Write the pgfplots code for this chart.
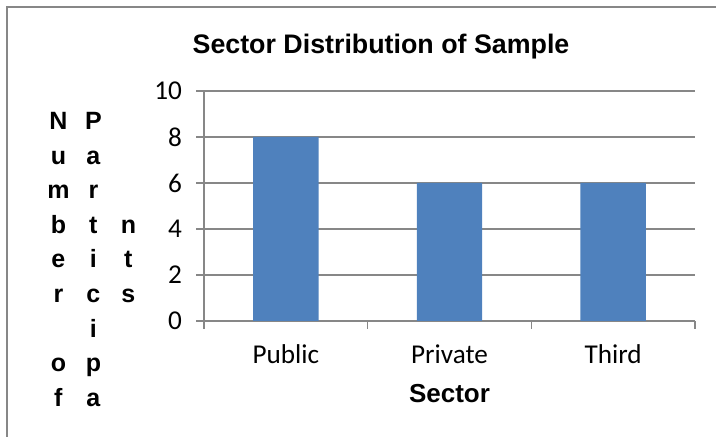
\documentclass[border=0pt]{standalone}
\usepackage{pgfplots}
\pgfplotsset{compat=1.18}
\usepackage{fontspec}
\setmainfont{Carlito}
\newfontfamily\arialfont{Liberation Sans}
\definecolor{barblue}{HTML}{4F81BD}
\definecolor{linegray}{HTML}{878787}
\newcommand\Lc[1]{\hbox to 17.5pt{\hss#1\hss}}
\begin{document}
\begin{tikzpicture}
\path[use as bounding box] (0,0) rectangle (358pt,218.5pt);
\draw[color=linegray, line width=0.7pt] (3.5pt,0) -- (3.5pt,215pt) -- (358pt,215pt);
\begin{axis}[
  at={(102pt,58pt)}, anchor=south west,
  scale only axis, width=245.5pt, height=115pt,
  xmin=-0.5, xmax=2.5, ymin=0, ymax=10,
  xtick={-0.5,0.5,1.5,2.5}, x tick label as interval,
  xticklabels={Public,Private,Third},
  ytick={0,2,4,6,8,10},
  axis x line*=bottom, axis y line*=left,
  axis line style={-, draw=linegray, line width=0.65pt},
  tick style={draw=linegray, line width=0.65pt},
  tick align=outside, major tick length=4pt,
  ymajorgrids, grid style={draw=linegray, line width=0.65pt},
  /pgf/number format/assume math mode=true,
  ticklabel style={font=\fontsize{13.6}{16}\selectfont},
  xticklabel style={yshift=-4.5pt},
  yticklabel style={xshift=-3.5pt},
  title={Sector Distribution of Sample},
  title style={font=\arialfont\bfseries\fontsize{13.4}{16}\selectfont,
    at={(axis description cs:0.3605,1)}, anchor=base, yshift=12.75pt},
  xlabel={Sector},
  xlabel style={font=\arialfont\bfseries\fontsize{13}{16}\selectfont,
    at={(axis description cs:0.5,0)}, anchor=base, yshift=-41pt},
  ylabel={\vbox{\baselineskip=17.3pt\lineskiplimit=-20pt
    \hbox{\Lc{N}\Lc{P}\Lc{}}
    \hbox{\Lc{u}\Lc{a}\Lc{}}
    \hbox{\Lc{m}\Lc{r}\Lc{}}
    \hbox{\Lc{b}\Lc{t}\Lc{n}}
    \hbox{\Lc{e}\Lc{i}\Lc{t}}
    \hbox{\Lc{r}\Lc{c}\Lc{s}}
    \hbox{\Lc{}\Lc{i}\Lc{}}
    \hbox{\Lc{o}\Lc{p}\Lc{}}
    \hbox{\Lc{f}\Lc{a}\Lc{}}}},
  ylabel style={rotate=-90, anchor=north west, inner sep=0pt,
    at={(axis description cs:-0.333,0.909)},
    font=\arialfont\bfseries\fontsize{12.5}{14}\selectfont},
]
\addplot[ybar, bar width=0.4, fill=barblue, draw=none] coordinates {(0,8) (1,6) (2,6)};
\end{axis}
\end{tikzpicture}
\end{document}
